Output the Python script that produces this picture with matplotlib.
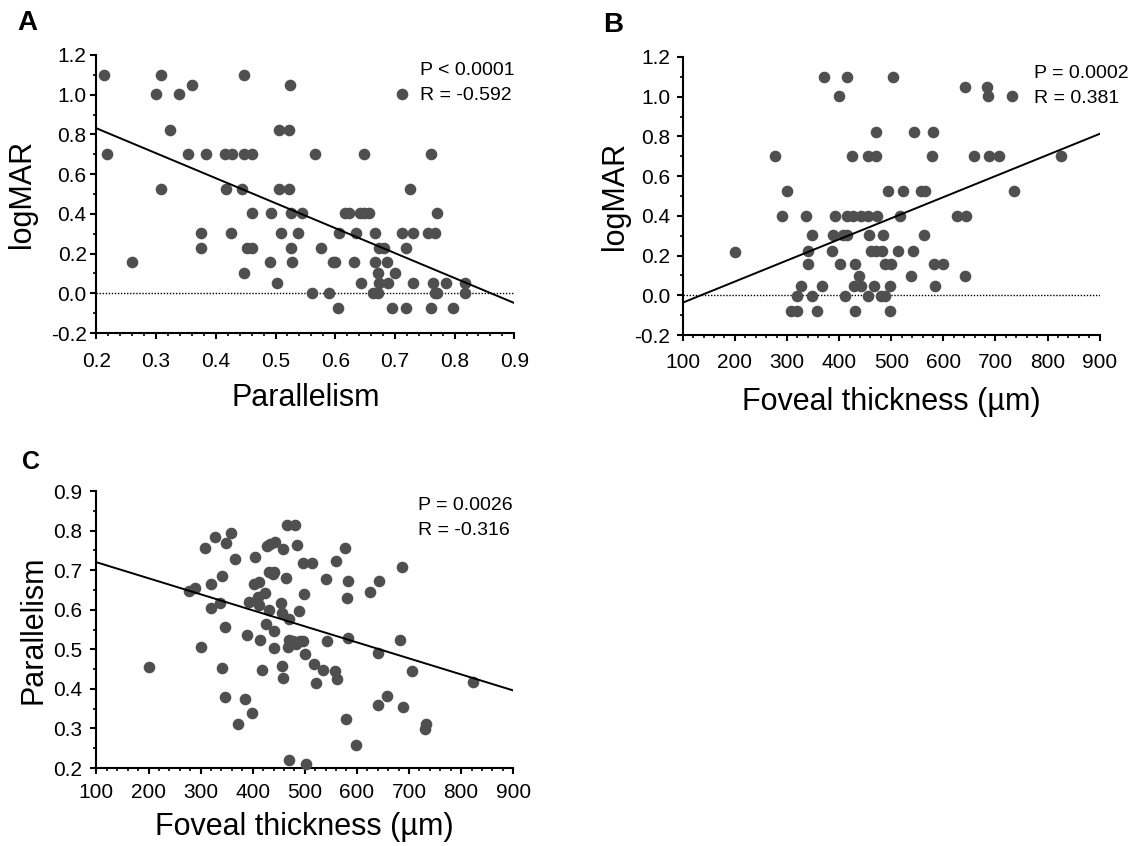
import matplotlib
matplotlib.use("Agg")
import matplotlib.pyplot as plt
from matplotlib.ticker import MultipleLocator, FormatStrFormatter

plt.rcParams['font.family'] = ['Liberation Sans', 'DejaVu Sans']

# ---------------- Panel A: Parallelism vs logMAR ----------------
a_parallelism = [0.212, 0.217, 0.259, 0.299, 0.309, 0.309, 0.324, 0.339, 0.353, 0.360,
                 0.376, 0.375, 0.384, 0.415, 0.427, 0.417, 0.426, 0.444, 0.448, 0.447,
                 0.461, 0.461, 0.452, 0.460, 0.448, 0.493, 0.490, 0.502, 0.506, 0.522,
                 0.506, 0.522, 0.525, 0.526, 0.509, 0.526, 0.528, 0.545, 0.538, 0.567,
                 0.576, 0.561, 0.589, 0.596, 0.600, 0.606, 0.604, 0.616, 0.623, 0.631,
                 0.635, 0.642, 0.649, 0.656, 0.648, 0.644, 0.667, 0.667, 0.671, 0.674,
                 0.682, 0.686, 0.664, 0.671, 0.673, 0.689, 0.700, 0.695, 0.712, 0.719,
                 0.726, 0.731, 0.731, 0.718, 0.761, 0.755, 0.767, 0.771, 0.763, 0.767,
                 0.770, 0.761, 0.785, 0.797, 0.818, 0.818, 0.712]
a_logmar = [1.10, 0.70, 0.157, 1.004, 1.10, 0.524, 0.823, 1.004, 0.70, 1.049,
            0.306, 0.226, 0.70, 0.70, 0.70, 0.524, 0.306, 0.524, 1.10, 0.70,
            0.70, 0.402, 0.226, 0.226, 0.10, 0.402, 0.157, 0.05, 0.823, 0.823,
            0.524, 0.524, 1.049, 0.402, 0.306, 0.226, 0.157, 0.402, 0.306, 0.70,
            0.226, 0.0, 0.0, 0.157, 0.157, 0.306, -0.076, 0.402, 0.402, 0.157,
            0.306, 0.402, 0.402, 0.402, 0.70, 0.05, 0.306, 0.157, 0.10, 0.226,
            0.226, 0.157, 0.0, 0.0, 0.05, 0.05, 0.10, -0.076, 0.306, 0.226,
            0.524, 0.306, 0.05, -0.076, 0.70, 0.306, 0.306, 0.402, 0.05, 0.0,
            0.0, -0.076, 0.05, -0.076, 0.05, 0.0, 1.004]
a_fit_x = [0.2, 0.9]
a_fit_y = [0.831, -0.049]

# ---------------- Panel B: Foveal thickness vs logMAR ----------------
b_thickness = [199.6, 277.7, 299.8, 289.5, 335.8, 347.5, 340.6, 340.6, 327.5, 318.5,
               306.7, 318.5, 348.2, 357.9, 366.9, 371.7, 399.4, 416.0, 391.8, 387.6,
               386.2, 402.1, 407.0, 414.6, 411.8, 424.9, 416.0, 426.3, 429.8, 429.8,
               438.8, 429.1, 442.2, 442.2, 456.1, 454.7, 469.9, 469.9, 473.4, 458.1,
               484.4, 460.9, 471.3, 482.3, 467.1, 455.4, 479.6, 488.6, 487.9, 498.9,
               496.9, 496.9, 503.1, 494.1, 522.4, 516.9, 513.5, 542.5, 537.0, 544.6,
               557.7, 564.6, 561.9, 580.5, 578.4, 581.9, 599.9, 583.3, 625.5, 642.7,
               642.1, 642.1, 659.3, 683.6, 685.6, 688.4, 706.4, 732.6, 734.7, 826.0]
b_logmar = [0.22, 0.70, 0.523, 0.398, 0.398, 0.303, 0.224, 0.158, 0.049, -0.002,
            -0.077, -0.077, -0.002, -0.077, 0.049, 1.099, 1.003, 1.099, 0.398, 0.303,
            0.224, 0.158, 0.303, 0.303, -0.002, 0.70, 0.398, 0.398, 0.158, -0.077,
            0.099, 0.049, 0.049, 0.398, 0.398, 0.70, 0.70, 0.820, 0.398, 0.303,
            0.303, 0.224, 0.224, 0.224, 0.049, -0.002, -0.002, -0.002, 0.158, 0.158,
            0.049, -0.077, 1.099, 0.523, 0.523, 0.398, 0.224, 0.224, 0.099, 0.820,
            0.523, 0.523, 0.303, 0.820, 0.70, 0.158, 0.158, 0.049, 0.398, 0.398,
            0.099, 1.047, 0.70, 1.047, 1.003, 0.70, 0.70, 1.003, 0.523, 0.70]
b_fit_x = [100, 900]
b_fit_y = [-0.037, 0.813]

# ---------------- Panel C: Foveal thickness vs Parallelism ----------------
c_thickness = [200.8, 278.2, 289.9, 300.9, 308.4, 320.7, 319.4, 327.6, 336.5, 342.0,
               341.3, 346.8, 347.5, 349.5, 359.1, 366.0, 372.1, 385.9, 389.3, 392.7,
               399.6, 405.0, 402.9, 412.6, 409.9, 411.2, 414.6, 417.4, 422.9, 425.6,
               430.4, 428.4, 433.8, 431.8, 440.0, 438.6, 442.1, 441.4, 441.4, 453.7,
               456.5, 457.8, 457.8, 455.8, 463.3, 468.8, 465.4, 481.1, 485.3, 470.2,
               467.4, 477.0, 482.5, 490.7, 496.2, 489.4, 496.2, 514.7, 497.6, 499.7,
               518.2, 535.3, 522.3, 470.2, 503.1, 543.5, 541.4, 559.9, 557.1, 561.3,
               577.1, 583.3, 580.5, 583.3, 579.9, 599.0, 625.1, 641.6, 640.9, 640.9,
               658.0, 686.1, 683.4, 688.2, 705.3, 732.0, 730.7, 823.2]
c_parallelism = [0.455, 0.648, 0.654, 0.505, 0.757, 0.664, 0.604, 0.783, 0.616, 0.685,
                 0.452, 0.557, 0.379, 0.768, 0.793, 0.728, 0.310, 0.374, 0.535, 0.619,
                 0.339, 0.733, 0.665, 0.669, 0.633, 0.612, 0.524, 0.448, 0.641, 0.564,
                 0.600, 0.760, 0.765, 0.695, 0.696, 0.690, 0.772, 0.545, 0.502, 0.618,
                 0.458, 0.427, 0.754, 0.591, 0.680, 0.576, 0.814, 0.814, 0.764, 0.524,
                 0.505, 0.522, 0.514, 0.522, 0.520, 0.598, 0.718, 0.718, 0.640, 0.488,
                 0.463, 0.448, 0.415, 0.220, 0.211, 0.522, 0.678, 0.724, 0.444, 0.426,
                 0.757, 0.673, 0.629, 0.528, 0.324, 0.259, 0.644, 0.673, 0.490, 0.360,
                 0.383, 0.709, 0.524, 0.354, 0.444, 0.310, 0.299, 0.418]
c_fit_x = [100, 900]
c_fit_y = [0.720, 0.396]

DOT = '#4f4f4f'
TICK_FS = 15
LABEL_FS = 22
ANN_FS = 14
W, H = 1135, 846


def style_axes(ax, xmaj, xmin, ymaj, ymin, xfmt, yfmt, xpad, ypad):
    for s in ('top', 'right'):
        ax.spines[s].set_visible(False)
    for s in ('left', 'bottom'):
        ax.spines[s].set_linewidth(1.5)
    ax.xaxis.set_major_locator(MultipleLocator(xmaj))
    ax.xaxis.set_minor_locator(MultipleLocator(xmin))
    ax.yaxis.set_major_locator(MultipleLocator(ymaj))
    ax.yaxis.set_minor_locator(MultipleLocator(ymin))
    ax.xaxis.set_major_formatter(FormatStrFormatter(xfmt))
    ax.yaxis.set_major_formatter(FormatStrFormatter(yfmt))
    ax.tick_params(which='major', direction='out', width=1.5, labelsize=TICK_FS)
    ax.tick_params(axis='x', which='major', length=4.5, pad=xpad)
    ax.tick_params(axis='y', which='major', length=4, pad=ypad)
    ax.tick_params(which='minor', direction='out', length=2.5, width=1.2)


def px_axes(left, right, top, bottom):
    return [left / W, 1 - bottom / H, (right - left) / W, (bottom - top) / H]


fig = plt.figure(figsize=(11.35, 8.46), dpi=100)

# Panel A
axA = fig.add_axes(px_axes(96.4, 514.3, 55, 333))
axA.scatter(a_parallelism, a_logmar, s=70, color=DOT, zorder=3, clip_on=False,
            linewidths=0)
axA.plot(a_fit_x, a_fit_y, color='black', lw=1.4, zorder=4)
axA.plot([0.2, 0.9], [0, 0], color='black', lw=1.0, ls=(0, (1, 1.2)), zorder=2)
axA.set_xlim(0.2, 0.9)
axA.set_ylim(-0.2, 1.2)
style_axes(axA, 0.1, 0.02, 0.2, 0.1, '%.1f', '%.1f', 9.5, 3)
axA.set_xlabel('Parallelism', fontsize=LABEL_FS)
axA.set_ylabel('logMAR', fontsize=LABEL_FS)
axA.xaxis.set_label_coords(0.5, -0.180)
axA.yaxis.set_label_coords(-0.142, 0.5)
axA.text(419.6, H - 70, 'P < 0.0001', transform=None, fontsize=ANN_FS,
         ha='left', va='center')
axA.text(419.6, H - 95, 'R = -0.592', transform=None, fontsize=ANN_FS,
         ha='left', va='center')

# Panel B
axB = fig.add_axes(px_axes(682.8, 1099.7, 57, 335))
axB.scatter(b_thickness, b_logmar, s=70, color=DOT, zorder=3, clip_on=False,
            linewidths=0)
axB.plot(b_fit_x, b_fit_y, color='black', lw=1.4, zorder=4)
axB.plot([100, 900], [0, 0], color='black', lw=1.0, ls=(0, (1, 1.2)), zorder=2)
axB.set_xlim(100, 900)
axB.set_ylim(-0.2, 1.2)
style_axes(axB, 100, 20, 0.2, 0.1, '%d', '%.1f', 8.5, 5)
axB.set_xlabel('Foveal thickness (µm)', fontsize=LABEL_FS)
axB.set_ylabel('logMAR', fontsize=LABEL_FS)
axB.xaxis.set_label_coords(0.5, -0.187)
axB.yaxis.set_label_coords(-0.127, 0.5)
axB.text(1034, H - 73, 'P = 0.0002', transform=None, fontsize=ANN_FS,
         ha='left', va='center')
axB.text(1034, H - 98, 'R = 0.381', transform=None, fontsize=ANN_FS,
         ha='left', va='center')

# Panel C
axC = fig.add_axes(px_axes(96.4, 513.2, 491, 768))
axC.scatter(c_thickness, c_parallelism, s=70, color=DOT, zorder=3, clip_on=False,
            linewidths=0)
axC.plot(c_fit_x, c_fit_y, color='black', lw=1.4, zorder=4)
axC.set_xlim(100, 900)
axC.set_ylim(0.2, 0.9)
style_axes(axC, 100, 20, 0.1, 0.05, '%d', '%.1f', 6.5, 6)
axC.set_xlabel('Foveal thickness (µm)', fontsize=LABEL_FS)
axC.set_ylabel('Parallelism', fontsize=LABEL_FS)
axC.xaxis.set_label_coords(0.5, -0.159)
axC.yaxis.set_label_coords(-0.116, 0.5)
axC.text(418, H - 505, 'P = 0.0026', transform=None, fontsize=ANN_FS,
         ha='left', va='center')
axC.text(418, H - 530, 'R = -0.316', transform=None, fontsize=ANN_FS,
         ha='left', va='center')

# Panel letters
fig.text(17 / W, 1 - 23 / H, 'A', fontsize=20, fontweight='bold',
         ha='left', va='center')
fig.text(603 / W, 1 - 25 / H, 'B', fontsize=20, fontweight='bold',
         ha='left', va='center')
fig.text(22 / W, 1 - 462 / H, 'C', fontsize=18, fontweight='bold',
         ha='left', va='center')

fig.savefig('out.png', dpi=100, facecolor='white')
